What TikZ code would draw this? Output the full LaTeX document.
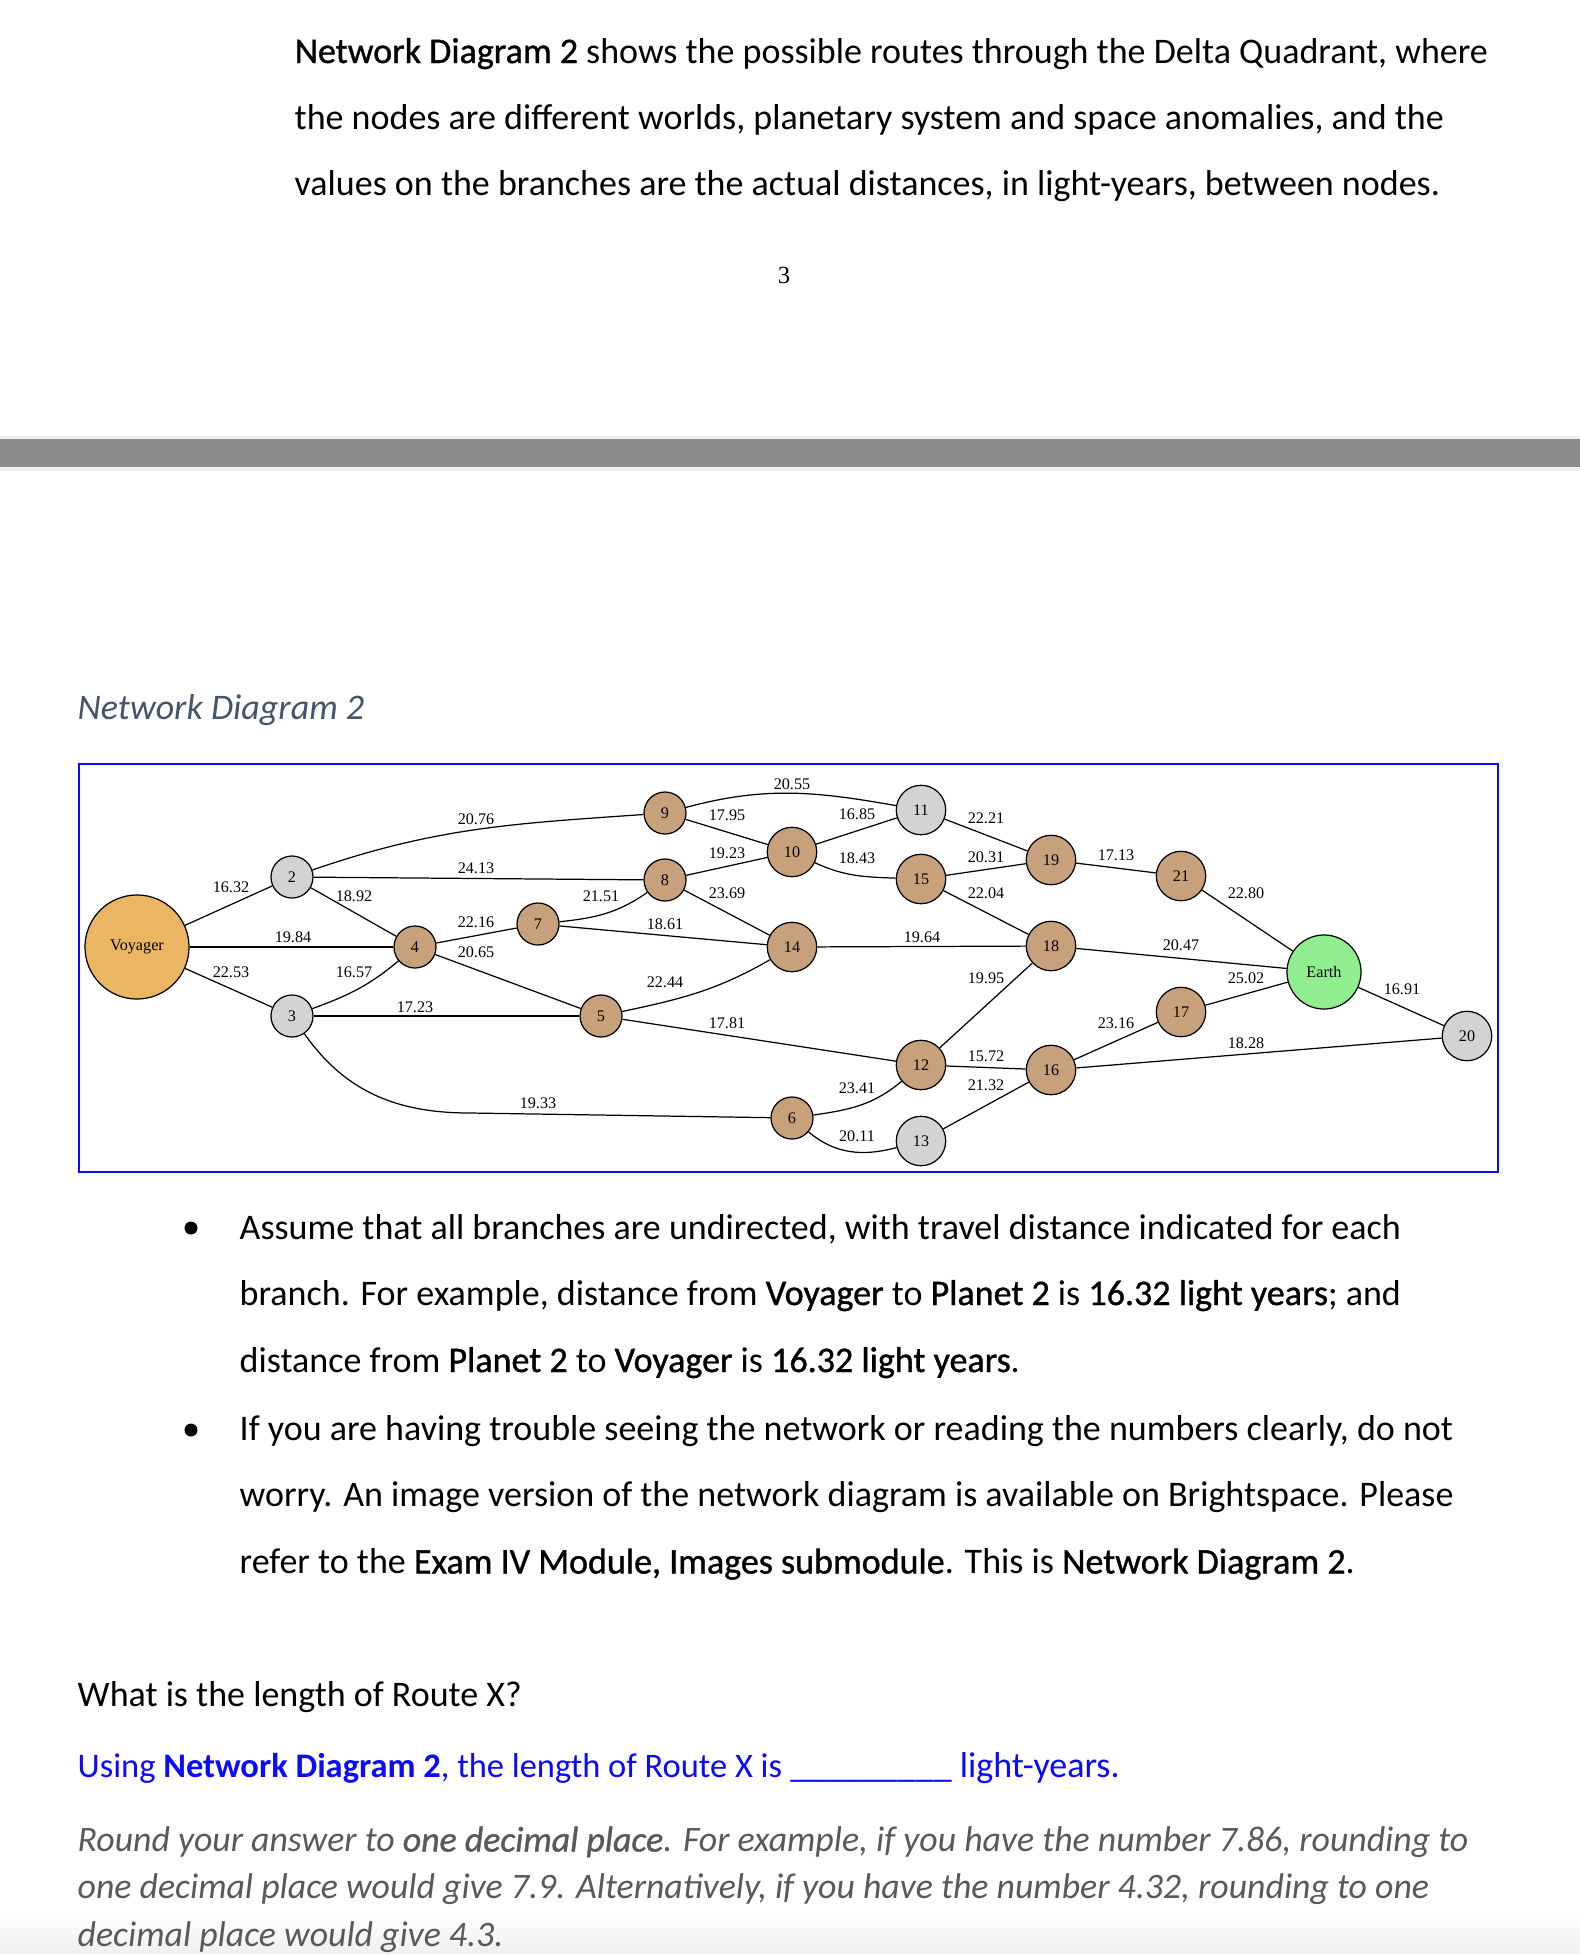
\documentclass[tikz,border=0pt]{standalone}
\usepackage{fontspec}
\setmainfont{Carlito}
\newfontfamily\timesfont{Liberation Serif}
\newfontfamily\semifont{Carlito}[FakeBold=1.0]
\usetikzlibrary{positioning, calc}

\definecolor{voyagerfill}{RGB}{234,182,100}
\definecolor{planetfill}{RGB}{199,160,124}
\definecolor{anomalyfill}{RGB}{211,211,211}
\definecolor{earthfill}{RGB}{144,238,144}
\definecolor{headingcol}{RGB}{68,84,106}
\definecolor{answercol}{RGB}{10,10,255}
\definecolor{notecol}{RGB}{89,89,89}
\definecolor{barcol}{RGB}{140,140,140}

\begin{document}
\begin{tikzpicture}[x=0.01cm, y=0.01cm]
		% Estilos del documento y de la red
		\tikzset{
			body text/.style={
					anchor=base west, inner sep=0pt,
					font=\fontsize{10.24}{12}\selectfont
				},
			note text/.style={
					body text, text=notecol,
					font=\fontsize{10.18}{12}\selectfont\itshape
				},
			world/.style={
					circle, draw, line width=0.35pt, inner sep=0pt,
					fill=planetfill, minimum size=0.494cm,
					font=\timesfont\fontsize{4.6}{5}\selectfont
				},
			single/.style={
					minimum size=0.42cm
				},
			anomaly/.style={
					fill=anomalyfill
				},
			branch/.style={
					draw, line width=0.35pt
				},
			distance text/.style={
					font=\timesfont\fontsize{4.6}{5}\selectfont, inner sep=0pt
				}
		}

		% Fondo y marco de la página
		\useasboundingbox (0,0) rectangle (1580,-1954);
		\fill[white] (0,0) rectangle (1580,-1954);
		\shade[top color=white, bottom color=black!6] (0,-1912) rectangle (1580,-1954);
		\fill[black!6] (0,-436) rectangle (1580,-471);
		\fill[barcol] (0,-439) rectangle (1580,-467);

		% Texto de la parte superior
		\node[body text] (intro1) at (294,-63) {\semifont Network Diagram 2\normalfont{} shows the possible routes through the Delta Quadrant, where};
		\node[body text] (intro2) at (294,-129) {the nodes are different worlds, planetary system and space anomalies, and the};
		\node[body text] (intro3) at (294,-195) {values on the branches are the actual distances, in light-years, between nodes.};
		\node[anchor=base, inner sep=0pt, font=\timesfont\fontsize{7}{8}\selectfont] (pagenum) at (784,-283) {3};

		\node[body text, text=headingcol, font=\fontsize{10.24}{12}\selectfont\itshape] (heading) at (77,-719) {Network Diagram 2};

		% Marco azul del diagrama
		\draw[answercol, line width=0.6pt] (79,-764) rectangle (1498,-1172);

		% Nodos de la red
		\node[world, fill=voyagerfill, minimum size=1.04cm] (v) at (137,-947) {Voyager};
		\node[world, single, anomaly] (n2) at (292,-877) {2};
		\node[world, single, anomaly] (n3) at (292,-1016) {3};
		\node[world, single] (n4) at (415,-947) {4};
		\node[world, single] (n7) at (538,-924) {7};
		\node[world, single] (n5) at (601,-1016) {5};
		\node[world, single] (n9) at (665,-813) {9};
		\node[world, single] (n8) at (665,-880) {8};
		\node[world] (n10) at (792,-852) {10};
		\node[world] (n14) at (792,-947) {14};
		\node[world, single] (n6) at (792,-1118) {6};
		\node[world, anomaly] (n11) at (921,-810) {11};
		\node[world] (n15) at (921,-879) {15};
		\node[world] (n12) at (921,-1065) {12};
		\node[world, anomaly] (n13) at (921,-1141) {13};
		\node[world] (n19) at (1051,-860) {19};
		\node[world] (n18) at (1051,-946) {18};
		\node[world] (n16) at (1051,-1070) {16};
		\node[world] (n21) at (1181,-876) {21};
		\node[world] (n17) at (1181,-1012) {17};
		\node[world, fill=earthfill, minimum size=0.74cm] (earth) at (1324,-972) {Earth};
		\node[world, anomaly] (n20) at (1467,-1036) {20};
		\coordinate (bend36) at (470,-1113);

		% Ramas rectas con su distancia
		\foreach \from/\to/\dist/\lx/\ly in {v/n2/16.32/231/887, v/n4/19.84/293/937, v/n3/22.53/231/972,
				n2/n8/24.13/476/868, n2/n4/18.92/354/896, n3/n5/17.23/415/1007, n4/n7/22.16/476/922,
				n4/n5/20.65/476/952, n7/n14/18.61/665/924, n9/n10/17.95/727/815, n8/n10/19.23/727/853,
				n8/n14/23.69/727/893, n5/n12/17.81/727/1023, n10/n11/16.85/857/814, n11/n19/22.21/986/818,
				n15/n19/20.31/986/857, n15/n18/22.04/986/893, n14/n18/19.64/922/937, n12/n18/19.95/986/978,
				n12/n16/15.72/986/1056, n13/n16/21.32/986/1085, n19/n21/17.13/1116/855,
				n21/earth/22.80/1246/893, n18/earth/20.47/1181/945, n17/earth/25.02/1246/978,
				n16/n17/23.16/1116/1023, n16/n20/18.28/1246/1043, earth/n20/16.91/1402/989} {
				\draw[branch] (\from) -- (\to) node[distance text] at (\lx,-\ly) {\dist};
			}

		% Ramas curvas
		\draw[branch] (n2) to[out=19, in=184] (n9) node[distance text] at (476,-819) {20.76};
		\draw[branch] (n3) to[out=20, in=220] (n4) node[distance text] at (354,-972) {16.57};
		\draw[branch] (n3) to[out=-55, in=180] (bend36) -- (n6) node[distance text] at (538,-1103) {19.33};
		\draw[branch] (n7) to[out=6, in=215] (n8) node[distance text] at (601,-896) {21.51};
		\draw[branch] (n5) to[out=12, in=210] (n14) node[distance text] at (665,-982) {22.44};
		\draw[branch] (n9) to[out=15, in=170] (n11) node[distance text] at (792,-784) {20.55};
		\draw[branch] (n10) to[out=-25, in=178] (n15) node[distance text] at (857,-858) {18.43};
		\draw[branch] (n6) to[out=8, in=220] (n12) node[distance text] at (857,-1088) {23.41};
		\draw[branch] (n6) to[out=-40, in=195] (n13) node[distance text] at (857,-1136) {20.11};

		% Viñetas
		\fill (191,-1228) circle (6.5);
		\fill (191,-1430) circle (6.5);
		\node[body text] (b1a) at (239,-1239) {Assume that all branches are undirected, with travel distance indicated for each};
		\node[body text] (b1b) at (239,-1305) {branch. For example, distance from \semifont Voyager\normalfont{} to \semifont Planet 2\normalfont{} is \semifont 16.32 light years\normalfont{}; and};
		\node[body text] (b1c) at (239,-1372) {distance from \semifont Planet 2\normalfont{} to \semifont Voyager\normalfont{} is \semifont 16.32 light years\normalfont.};
		\node[body text] (b2a) at (239,-1440.5) {If you are having trouble seeing the network or reading the numbers clearly, do not};
		\node[body text] (b2b) at (239,-1506.5) {worry. An image version of the network diagram is available on Brightspace. Please};
		\node[body text] (b2c) at (239,-1573.5) {refer to the \semifont Exam IV Module, Images submodule\normalfont. This is \semifont Network Diagram 2\normalfont.};

		% Pregunta y respuesta
		\node[body text] (question) at (77,-1706) {What is the length of Route X?};
		\node[body text, text=answercol] (answer) at (77,-1777) {{\fontsize{9.8}{12}\selectfont Using \textbf{Network Diagram 2}, the length of Route X is} \_\_\_\_\_\_\_\_\_ light-years.};
		\node[note text] (round1) at (77,-1851.5) {Round your answer to {\semifont\itshape one decimal place}. For example, if you have the number 7.86, rounding to};
		\node[note text] (round2) at (77,-1898.5) {one decimal place would give 7.9. Alternatively, if you have the number 4.32, rounding to one};
		\node[note text] (round3) at (77,-1946.5) {decimal place would give 4.3.};
	\end{tikzpicture}
\end{document}
